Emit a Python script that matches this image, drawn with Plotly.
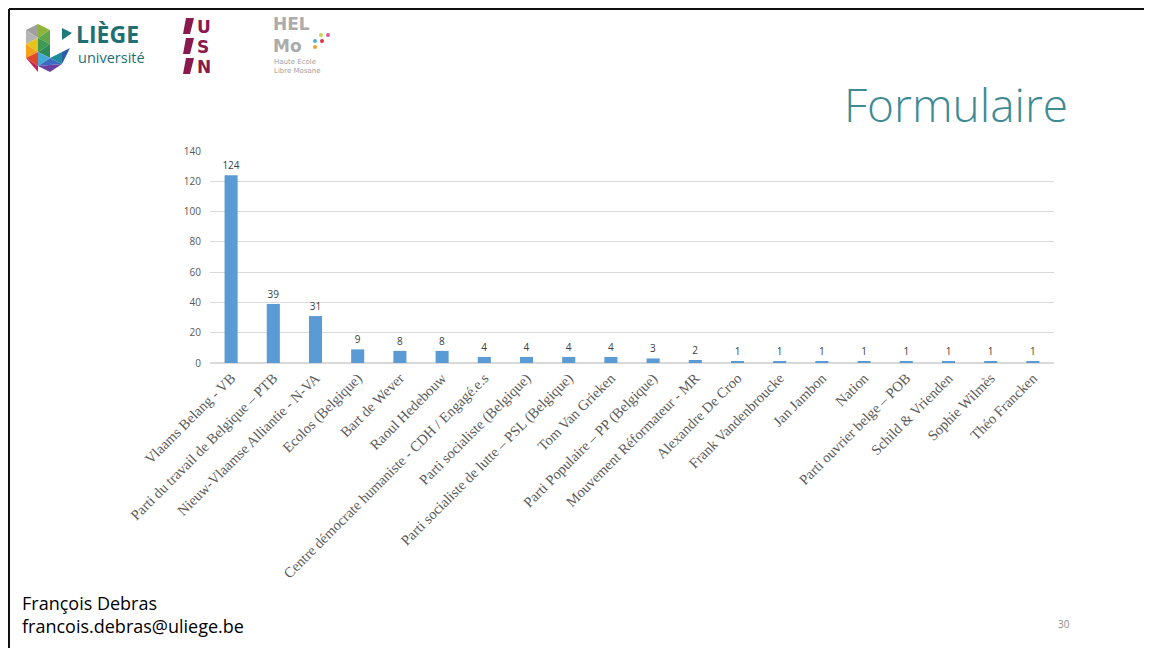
import plotly.graph_objects as go

categories = [
    "Vlaams Belang - VB",
    "Parti du travail de Belgique – PTB",
    "Nieuw-Vlaamse Alliantie - N-VA",
    "Ecolos (Belgique)",
    "Bart de Wever",
    "Raoul Hedebouw",
    "Centre démocrate humaniste - CDH / Engagé.e.s",
    "Parti socialiste (Belgique)",
    "Parti socialiste de lutte – PSL (Belgique)",
    "Tom Van Grieken",
    "Parti Populaire – PP (Belgique)",
    "Mouvement Réformateur - MR",
    "Alexandre De Croo",
    "Frank Vandenbroucke",
    "Jan Jambon",
    "Nation",
    "Parti ouvrier belge – POB",
    "Schild & Vrienden",
    "Sophie Wilmès",
    "Théo Francken",
]
values = [124, 39, 31, 9, 8, 8, 4, 4, 4, 4, 3, 2, 1, 1, 1, 1, 1, 1, 1, 1]
y_ticks = [0, 20, 40, 60, 80, 100, 120, 140]

W, H = 1152, 648
OX, OY = 8, 8  # page body margin offset

fig = go.Figure()
fig.add_trace(go.Bar(
    x=categories, y=values,
    marker=dict(color="#5B9BD5", line=dict(width=0)),
    width=0.31,
    text=[str(v) for v in values],
    textposition="outside",
    constraintext="none",
    textfont=dict(family="Open Sans, DejaVu Sans", size=10, color="#404040"),
    cliponaxis=False,
))

def px_x(p):
    return (p - OX) / W

def px_y(p):
    return 1 - (p - OY) / H

shapes = []
# slide border (top and left)
shapes.append(dict(type="line", xref="paper", yref="paper", x0=px_x(9), x1=1.0, y0=px_y(9), y1=px_y(9),
                   line=dict(color="#111111", width=2)))
shapes.append(dict(type="line", xref="paper", yref="paper", x0=px_x(9), x1=px_x(9), y0=px_y(9), y1=0,
                   line=dict(color="#111111", width=2)))

def poly(pts, color):
    path = "M " + " L ".join(f"{px_x(x):.5f},{px_y(y):.5f}" for x, y in pts) + " Z"
    return dict(type="path", xref="paper", yref="paper", path=path, fillcolor=color, line=dict(width=0))

# Liège logo (decorative polygons)
logo_tris = [
    ([(26, 30), (38, 24), (38, 38)], "#A0A0A0"),
    ([(26, 30), (38, 38), (26, 44)], "#B5B5B5"),
    ([(38, 24), (50, 30), (38, 38)], "#8FB43A"),
    ([(26, 44), (38, 38), (38, 52)], "#E8C31B"),
    ([(38, 38), (50, 30), (50, 44)], "#5FA845"),
    ([(38, 38), (50, 44), (38, 52)], "#3E9A52"),
    ([(26, 44), (38, 52), (26, 58)], "#F2A31B"),
    ([(38, 52), (50, 44), (50, 58)], "#2E8B57"),
    ([(26, 58), (38, 52), (38, 66)], "#E2452B"),
    ([(38, 52), (50, 58), (38, 66)], "#42A9D6"),
    ([(38, 66), (50, 58), (62, 64)], "#3B6CC2"),
    ([(50, 58), (62, 52), (62, 64)], "#1C8C9C"),
    ([(26, 58), (38, 66), (38, 72)], "#C3245A"),
    ([(38, 66), (62, 64), (50, 72)], "#6A3FA0"),
    ([(62, 52), (70, 48), (62, 64)], "#2D5DA8"),
    ([(62, 28), (72, 33), (62, 40)], "#1F7A7E"),
]
for pts, c in logo_tris:
    shapes.append(poly(pts, c))

# USN logo bars
maroon = "#8A1A4E"
for y0 in (18, 38, 58):
    shapes.append(poly([(186, y0), (194, y0), (190, y0 + 16), (183, y0 + 16)], maroon))

# HELMo dots
for (cx, cy, c) in [(321, 35, "#C8D64A"), (328, 35, "#D45AA0"), (315, 41, "#4AB5D0"),
                    (322, 41, "#E0303A"), (315, 47, "#F0A030")]:
    shapes.append(dict(type="circle", xref="paper", yref="paper",
                       x0=px_x(cx - 2), x1=px_x(cx + 2), y0=px_y(cy + 2), y1=px_y(cy - 2),
                       fillcolor=c, line=dict(width=0)))

ann = []
ann.append(dict(text="<b>LIÈGE</b>", x=px_x(74), y=px_y(34), xanchor="left", yanchor="middle",
                font=dict(family="Open Sans, DejaVu Sans", size=23, color="#1F6F73")))
ann.append(dict(text="université", x=px_x(76), y=px_y(57), xanchor="left", yanchor="middle",
                font=dict(family="Open Sans, DejaVu Sans", size=14.5, color="#1F6F73")))
for i, ch in enumerate(["U", "S", "N"]):
    ann.append(dict(text=f"<b>{ch}</b>", x=px_x(195), y=px_y(27 + 20 * i), xanchor="left", yanchor="middle",
                    font=dict(family="DejaVu Sans", size=17, color=maroon)))
ann.append(dict(text="<b>HEL<br>Mo</b>", x=px_x(271), y=px_y(35), xanchor="left", yanchor="middle",
                align="left", font=dict(family="DejaVu Sans", size=17, color="#ABABAB")))
ann.append(dict(text="Haute Ecole<br>Libre Mosane", x=px_x(272), y=px_y(67), xanchor="left", yanchor="middle",
                align="left", font=dict(family="DejaVu Sans", size=7, color="#A0A0A0")))

ann.append(dict(text="Formulaire", x=px_x(1070), y=px_y(104), xanchor="right", yanchor="middle",
                font=dict(family="Open Sans, Lato", size=46, color="#3E8B94", weight=300)))
ann.append(dict(text="François Debras", x=px_x(20), y=px_y(603), xanchor="left", yanchor="middle",
                font=dict(family="Open Sans", size=18, color="#000000")))
ann.append(dict(text="francois.debras@uliege.be", x=px_x(20), y=px_y(626), xanchor="left", yanchor="middle",
                font=dict(family="Open Sans", size=18, color="#000000")))
ann.append(dict(text="30", x=px_x(1064), y=px_y(624), xanchor="center", yanchor="middle",
                font=dict(family="Open Sans", size=10, color="#8C8C8C")))
for a in ann:
    a.update(xref="paper", yref="paper", showarrow=False)

fig.update_layout(
    shapes=shapes,
    annotations=ann,
    width=W, height=H,
    autosize=False,
    margin=dict(l=0, r=0, t=0, b=0, pad=0),
    paper_bgcolor="white", plot_bgcolor="white",
    showlegend=False,
    xaxis=dict(
        domain=[px_x(210), px_x(1054)],
        tickangle=-45,
        tickfont=dict(family="Liberation Serif, Times New Roman", size=14.5, color="#595959"),
        showgrid=False, showline=True, linecolor="#D9D9D9", linewidth=1,
        ticks="", anchor="y", automargin=False,
    ),
    yaxis=dict(
        domain=[px_y(363), px_y(151)],
        range=[0, 140],
        tickvals=y_ticks,
        tickfont=dict(family="Open Sans, DejaVu Sans", size=10, color="#595959"),
        showgrid=True, gridcolor="#D9D9D9", gridwidth=1,
        zeroline=True, zerolinecolor="#D9D9D9",
        showline=False, ticks="", ticklabelstandoff=8, automargin=False,
    ),
)

fig.write_html("out.html")
